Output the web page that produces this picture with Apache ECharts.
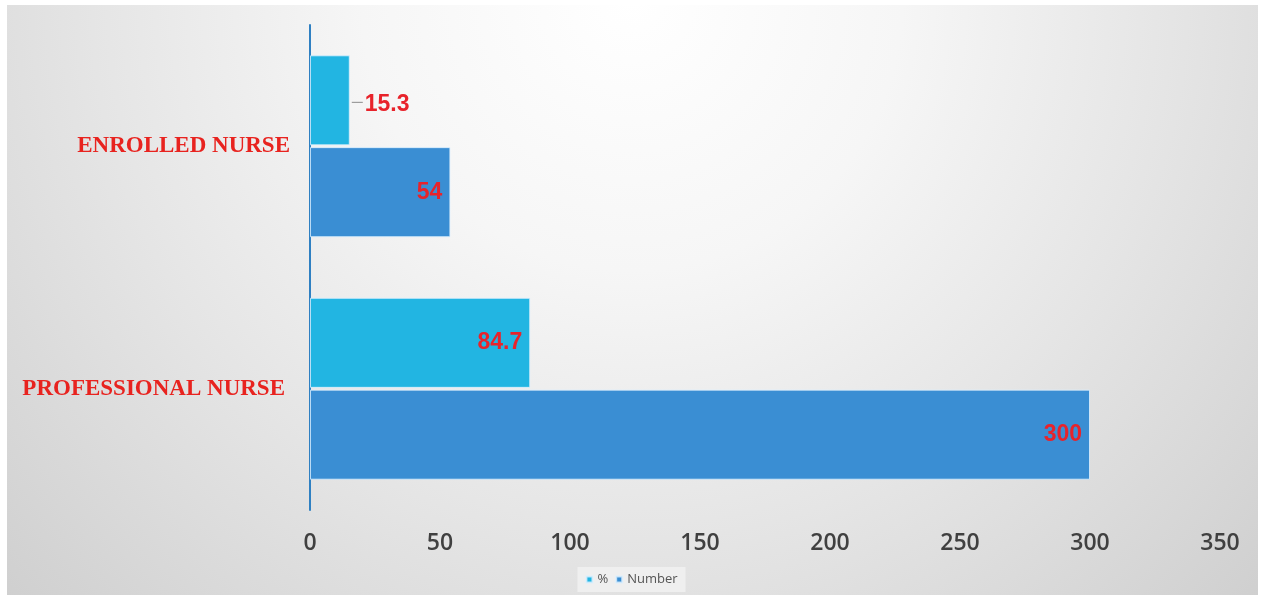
<!DOCTYPE html>
<html>
<head>
<meta charset="utf-8">
<script src="https://cdn.jsdelivr.net/npm/echarts@6/dist/echarts.min.js"></script>
<style>html,body{margin:0;padding:0;background:#fff}#c{width:1263px;height:600px}</style>
</head>
<body>
<div id="c"></div>
<script>
const categories = ['PROFESSIONAL NURSE', 'ENROLLED NURSE'];
const seriesNames = ['%', 'Number'];
const pctValues = [84.7, 15.3];
const numberValues = [300, 54];
const xTicks = [0, 50, 100, 150, 200, 250, 300, 350];

const chart = echarts.init(document.getElementById('c'), null, {renderer: 'canvas'});
const labelStyle = {
  color: '#e8232b', fontFamily: 'Liberation Sans, Arial, sans-serif',
  fontWeight: 'bold', fontSize: 23
};
function mkData(vals) {
  return vals.map(v => {
    if (v < 30) {
      return {
        value: v,
        label: {
          position: 'right', distance: 2,
          formatter: '{ln|}{v|{c}}',
          rich: {
            ln: {width: 11, height: 1, backgroundColor: '#8a8a8a'},
            v: Object.assign({padding: [4, 0, 0, 2]}, labelStyle)
          }
        }
      };
    }
    return v;
  });
}
const catPadding = [[6, 5, 0, 0], [4, 0, 0, 0]];
const colors = ['#22b5e2', '#3a8ed3'];
const option = {
  animation: false,
  graphic: [{
    type: 'rect', z: -10, silent: true,
    shape: {x: 7, y: 5, width: 1251, height: 590},
    style: {
      fill: new echarts.graphic.RadialGradient(632, 0, 900, [
        {offset: 0, color: '#ffffff'},
        {offset: 0.3, color: '#f6f6f6'},
        {offset: 0.6, color: '#e5e5e5'},
        {offset: 1, color: '#cdcdcd'}
      ], true)
    }
  }],
  grid: {left: 310, right: 43, top: 25, bottom: 90, containLabel: false},
  legend: {
    data: seriesNames, bottom: 8, left: 'center',
    icon: 'rect', itemWidth: 6, itemHeight: 6, itemGap: 7,
    backgroundColor: '#efefef', padding: [6, 8],
    textStyle: {color: '#555', fontSize: 13, fontFamily: 'Open Sans, sans-serif'}
  },
  xAxis: {
    type: 'value', min: xTicks[0], max: xTicks[xTicks.length - 1], interval: 50,
    axisLine: {show: false}, axisTick: {show: false}, splitLine: {show: false},
    axisLabel: {margin: 22, color: '#404040', fontSize: 23, fontWeight: 600, fontFamily: 'Open Sans, sans-serif'}
  },
  yAxis: {
    type: 'category',
    data: categories.map((c, i) => ({value: c, textStyle: {padding: catPadding[i]}})),
    axisLine: {lineStyle: {color: '#2f80c2', width: 2}}, axisTick: {show: false},
    axisLabel: {margin: 20, color: '#e8231f', fontSize: 23, fontWeight: 'bold', fontFamily: 'Liberation Serif, Times New Roman, serif'}
  },
  series: [
    {
      name: seriesNames[0], type: 'bar', data: mkData(pctValues),
      barCategoryGap: '25%', barGap: '2%',
      itemStyle: {color: colors[0], borderColor: 'rgba(220,240,255,0.8)', borderWidth: 1},
      label: Object.assign({show: true, position: 'insideRight', distance: 8, padding: [4, 0, 0, 0]}, labelStyle)
    },
    {
      name: seriesNames[1], type: 'bar', data: mkData(numberValues),
      barCategoryGap: '25%', barGap: '2%',
      itemStyle: {color: colors[1], borderColor: 'rgba(220,240,255,0.8)', borderWidth: 1},
      label: Object.assign({show: true, position: 'insideRight', distance: 8, padding: [4, 0, 0, 0]}, labelStyle)
    }
  ]
};
chart.setOption(option);
</script>
</body>
</html>
